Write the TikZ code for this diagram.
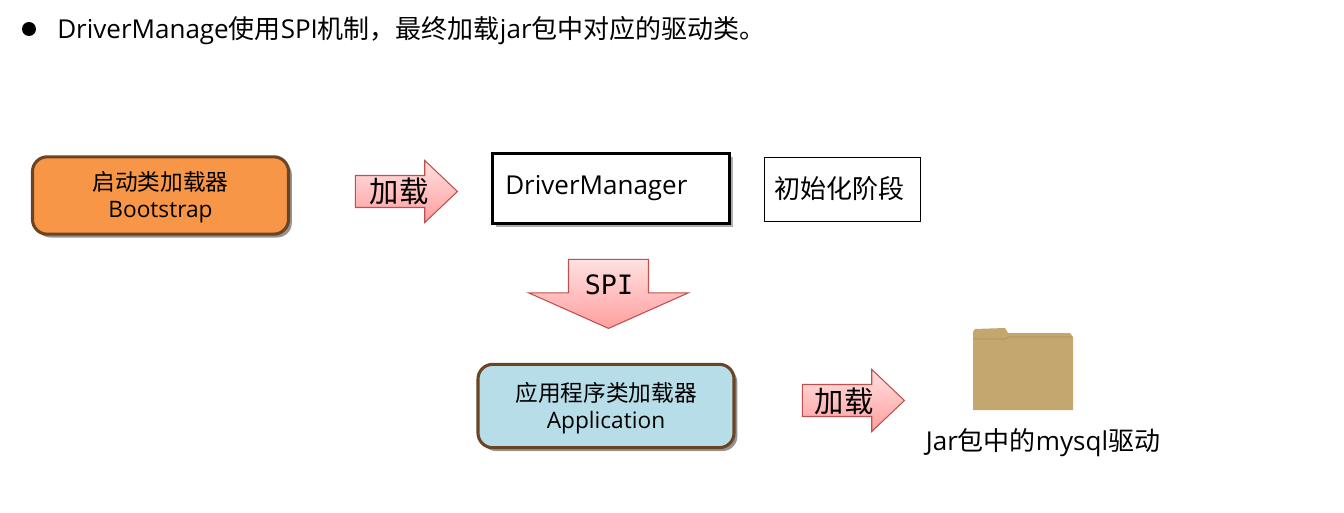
\documentclass[tikz,border=0pt]{standalone}
\usepackage{fontspec}
\setmainfont{Open Sans}
\setmonofont{DejaVu Sans Mono}
\newfontfamily\cjk{Noto Sans CJK SC}
\usetikzlibrary{shapes.arrows,shadows}
\definecolor{boxbrown}{HTML}{6B4423}
\definecolor{bootorange}{HTML}{F79646}
\definecolor{applblue}{HTML}{B7DDE8}
\definecolor{arrowred}{HTML}{C0504D}
\definecolor{folderbrown}{HTML}{C4A76F}

\begin{document}
\begin{tikzpicture}[x=0.75pt,y=-0.75pt,
    loader/.style={draw=boxbrown,line width=2.3pt,rounded corners=11pt,minimum width=192pt,
      drop shadow={shadow xshift=2.5pt,shadow yshift=-2.5pt,fill=black!60,opacity=0.7}},
    loadertext/.style={align=center,font=\fontsize{17}{20}\selectfont},
    loadarrow/.style={single arrow,draw=arrowred,line width=0.8pt,top color=red!12,bottom color=red!38,
      inner xsep=0pt,inner ysep=11.6pt,minimum height=76.5pt,minimum width=45.75pt,
      single arrow head extend=11.25pt,single arrow tip angle=87,single arrow head indent=0pt},
    biglabel/.style={font=\fontsize{22}{26}\selectfont\cjk},
    midlabel/.style={font=\fontsize{19.5}{23}\selectfont}]
    \useasboundingbox (0,0) rectangle (1344,513);
    % heading
    \node[circle,fill=black,inner sep=0pt,minimum size=10.5pt] (dot) at (29,29) {};
    \node[anchor=west,inner sep=0pt,midlabel] (title) at (57,31) {DriverManage{\cjk 使用}SPI{\cjk 机制，最终加载}jar{\cjk 包中对应的驱动类。}};
    % first row
    \node[loader,fill=bootorange,minimum height=58pt] (boot) at (160.5,195.5) {};
    \node[loadertext] (boottext) at (160.5,197.5) {{\cjk 启动类加载器}\\Bootstrap};
    \node[loadarrow] (loadA) at (398,191.5) {};
    \node[biglabel] (loadAtext) at (399,191) {加载};
    \node[draw=black,line width=2.7pt,fill=white,minimum width=177.5pt,minimum height=52.5pt,
      drop shadow={shadow xshift=2.5pt,shadow yshift=-2.5pt,fill=black!45,opacity=0.7}] (manager) at (611,188.5) {};
    \node[anchor=west,inner sep=0pt,midlabel] (managertext) at (505,188) {DriverManager};
    \node[draw=black,line width=0.6pt,minimum width=117pt,minimum height=48pt] (init) at (842,189) {};
    \node[midlabel] (inittext) at (839.5,189) {\cjk 初始化阶段};
    % SPI
    \node[single arrow,shape border rotate=270,draw=arrowred,line width=0.8pt,top color=red!12,bottom color=red!38,
      inner xsep=29.6pt,inner ysep=0pt,minimum height=51.75pt,minimum width=119.25pt,
      single arrow head extend=30pt,single arrow tip angle=132,single arrow head indent=0pt] (spi) at (608.5,285) {};
    \node[font=\fontsize{20}{24}\ttfamily] (spitext) at (609,285) {SPI};
    % second row
    \node[loader,fill=applblue,minimum height=62.5pt] (appl) at (606,406) {};
    \node[loadertext] (appltext) at (606,408) {{\cjk 应用程序类加载器}\\Application};
    \node[loadarrow] (loadB) at (845,400.5) {};
    \node[biglabel] (loadBtext) at (844,401) {加载};
    \fill[folderbrown] (973,410) -- (973,332) -- (975,329) -- (1005,328) -- (1008,333) -- (1070,333)
      -- (1073,337) -- (1073,410) -- cycle;
    \draw[folderbrown!85!black,line width=0.4pt] (973,339) -- (1006,339) -- (1008,337) -- (1072,337);
    \node[midlabel] (driver) at (1043,443) {Jar{\cjk 包中的}mysql{\cjk 驱动}};
\end{tikzpicture}
\end{document}
